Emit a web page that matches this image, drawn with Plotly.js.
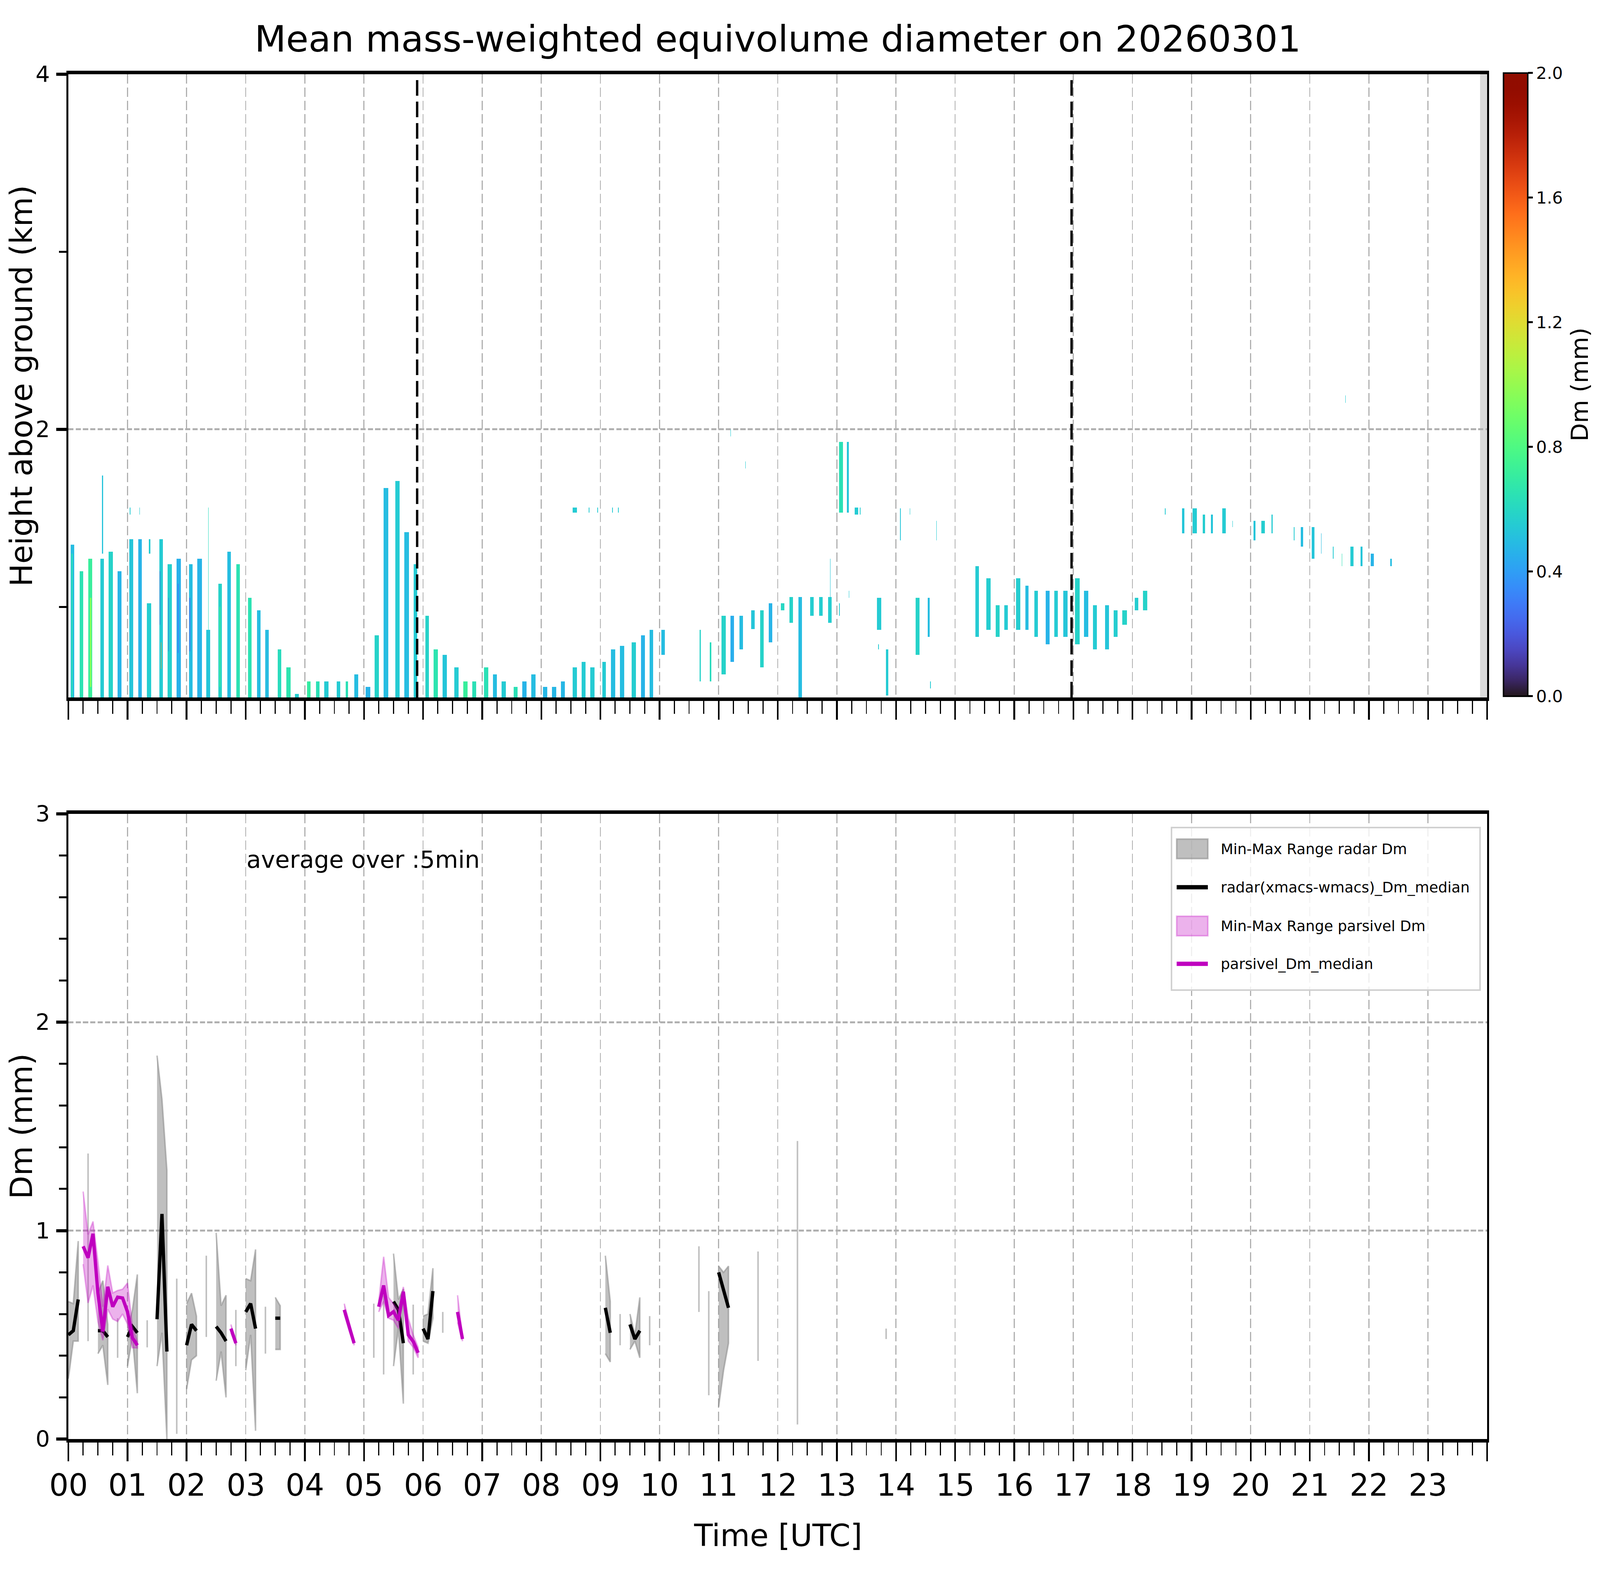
<!DOCTYPE html>
<html><head><meta charset="utf-8">
<script src="https://cdn.plot.ly/plotly-3.0.1.min.js"></script>
<style>html,body{margin:0;padding:0;background:#fff;overflow:hidden;}</style>
</head><body><div id="chart"></div>
<script>
// ---------------- DATA ----------------
// Top panel: radar Dm columns (time in hours UTC, heights in km, Dm in mm)
const colStart = [
  0.04,0.19,0.34,0.36,0.54,0.57,0.68,0.83,0.05,
  1.03,1.04,1.18,1.20,1.33,1.36,1.54,1.68,1.83,1.545,1.565,1.69,1.85,
  2.04,2.18,2.33,2.365,2.54,2.69,2.84,2.05,2.56,
  3.04,3.19,3.33,3.54,3.69,3.83,
  4.04,4.19,4.33,4.54,4.69,4.84,
  5.03,5.18,5.33,5.53,5.68,5.84,
  6.04,6.18,6.33,6.53,6.68,6.83,
  7.03,7.18,7.33,7.53,7.68,7.83,
  8.03,8.18,8.33,8.53,8.68,8.83,8.53,8.80,8.95,
  9.03,9.18,9.33,9.53,9.69,9.83,9.20,9.30,
  10.03,10.68,10.85,11.05,11.20,11.35,11.55,11.70,11.85,12.05,12.20,12.35,12.55,12.70,12.85,12.885,11.20,11.45,
  13.04,13.17,13.30,13.39,13.04,13.20,13.68,13.70,13.83,
  14.07,14.23,14.335,14.54,14.58,14.68,
  15.34,15.53,15.685,15.83,16.03,16.19,16.34,16.53,16.68,16.83,
  17.03,17.18,17.33,17.535,17.68,17.83,18.04,18.18,
  18.55,18.84,19.02,19.19,19.33,19.52,19.69,20.05,20.18,20.35,20.73,20.85,21.03,21.19,21.39,21.54,21.69,21.86,22.03,22.36,21.60
];
const colEnd = [
  0.10,0.25,0.40,0.39,0.60,0.585,0.75,0.90,0.07,
  1.10,1.05,1.24,1.21,1.40,1.385,1.60,1.75,1.90,1.555,1.575,1.70,1.86,
  2.10,2.26,2.40,2.375,2.60,2.75,2.90,2.06,2.57,
  3.10,3.25,3.39,3.60,3.76,3.90,
  4.10,4.25,4.40,4.60,4.73,4.90,
  5.11,5.25,5.41,5.60,5.76,5.90,
  6.10,6.25,6.40,6.60,6.75,6.90,
  7.10,7.25,7.40,7.60,7.75,7.90,
  8.10,8.25,8.40,8.60,8.75,8.90,8.60,8.815,8.962,
  9.09,9.25,9.40,9.60,9.75,9.89,9.21,9.31,
  10.09,10.70,10.875,11.12,11.26,11.41,11.61,11.76,11.91,12.11,12.26,12.41,12.61,12.76,12.91,12.895,11.21,11.46,
  13.10,13.20,13.36,13.40,13.05,13.21,13.75,13.71,13.87,
  14.08,14.24,14.40,14.57,14.59,14.69,
  15.40,15.60,15.75,15.89,16.10,16.24,16.40,16.60,16.74,16.90,
  17.11,17.25,17.40,17.60,17.75,17.91,18.10,18.25,
  18.56,18.88,19.09,19.23,19.36,19.58,19.70,20.08,20.24,20.37,20.74,20.89,21.08,21.20,21.40,21.55,21.74,21.89,22.08,22.39,21.61
];
const colBase = [
  0.49,0.49,0.49,0.55,0.49,1.30,0.49,0.49,0.49,
  0.49,1.52,0.49,1.52,0.49,1.30,0.49,0.49,0.49,0.90,0.65,0.75,0.74,
  0.49,0.49,0.49,0.87,0.49,0.49,0.49,0.75,0.55,
  0.49,0.49,0.49,0.49,0.49,0.49,
  0.49,0.49,0.49,0.49,0.49,0.49,
  0.49,0.49,0.49,0.49,0.49,0.49,
  0.49,0.49,0.49,0.49,0.49,0.49,
  0.49,0.49,0.49,0.49,0.49,0.49,
  0.49,0.49,0.49,0.49,0.49,0.49,1.53,1.53,1.53,
  0.49,0.49,0.49,0.49,0.49,0.49,1.53,1.53,
  0.73,0.58,0.58,0.62,0.69,0.76,0.875,0.66,0.80,0.98,0.91,0.49,0.95,0.95,0.91,1.05,1.96,1.78,
  1.53,1.53,1.52,1.52,0.95,1.05,0.87,0.76,0.50,
  1.375,1.52,0.73,0.83,0.54,1.375,
  0.83,0.87,0.83,0.87,0.87,0.87,0.83,0.79,0.83,0.83,
  0.79,0.83,0.76,0.76,0.83,0.90,0.98,0.98,
  1.52,1.415,1.415,1.415,1.415,1.415,1.45,1.375,1.415,1.415,1.375,1.34,1.27,1.30,1.27,1.23,1.23,1.23,1.23,1.23,2.15
];
const colTop = [
  1.35,1.20,1.27,1.05,1.27,1.74,1.31,1.20,1.30,
  1.38,1.56,1.38,1.56,1.02,1.38,1.38,1.24,1.27,1.20,0.80,1.05,1.13,
  1.24,1.27,0.87,1.56,1.13,1.31,1.24,1.05,1.00,
  1.05,0.98,0.87,0.76,0.66,0.51,
  0.58,0.58,0.58,0.58,0.58,0.62,
  0.55,0.84,1.67,1.71,1.42,1.24,
  0.95,0.76,0.73,0.66,0.58,0.58,
  0.66,0.62,0.58,0.55,0.58,0.62,
  0.55,0.55,0.58,0.66,0.69,0.66,1.56,1.56,1.56,
  0.69,0.76,0.78,0.80,0.84,0.87,1.56,1.56,
  0.87,0.87,0.80,0.95,0.95,0.95,0.98,0.98,1.02,1.02,1.055,1.055,1.055,1.055,1.055,1.27,2.00,1.82,
  1.93,1.93,1.56,1.56,1.02,1.09,1.05,0.79,0.76,
  1.555,1.555,1.05,1.05,0.58,1.485,
  1.23,1.16,1.01,1.01,1.16,1.12,1.09,1.09,1.09,1.09,
  1.16,1.09,1.01,1.01,0.98,0.98,1.05,1.09,
  1.555,1.555,1.555,1.52,1.52,1.555,1.485,1.485,1.485,1.52,1.45,1.45,1.45,1.415,1.34,1.30,1.34,1.34,1.30,1.27,2.19
];
const colDm = [
  0.50,0.65,0.72,0.95,0.55,0.52,0.58,0.47,0.65,
  0.53,0.55,0.47,0.55,0.56,0.55,0.55,0.57,0.46,0.20,1.40,0.25,0.30,
  0.50,0.47,0.53,0.62,0.58,0.50,0.65,0.25,0.75,
  0.65,0.50,0.50,0.62,0.66,0.56,
  0.70,0.64,0.55,0.55,0.64,0.50,
  0.47,0.58,0.50,0.55,0.50,0.55,
  0.58,0.66,0.53,0.55,0.72,0.64,
  0.64,0.50,0.55,0.64,0.47,0.50,
  0.48,0.48,0.48,0.55,0.55,0.55,0.55,0.55,0.55,
  0.55,0.50,0.50,0.56,0.47,0.50,0.55,0.55,
  0.50,0.58,0.62,0.58,0.45,0.50,0.53,0.58,0.47,0.60,0.58,0.50,0.56,0.56,0.56,0.53,0.55,0.55,
  0.64,0.53,0.55,0.55,0.55,0.55,0.55,0.55,0.55,
  0.53,0.55,0.58,0.50,0.55,0.55,
  0.55,0.56,0.58,0.55,0.56,0.50,0.55,0.47,0.55,0.53,
  0.58,0.50,0.55,0.53,0.56,0.58,0.56,0.58,
  0.55,0.53,0.55,0.56,0.53,0.55,0.55,0.53,0.56,0.55,0.55,0.50,0.53,0.50,0.55,0.64,0.55,0.53,0.47,0.50,0.55
];
const noDataFrom = 23.88;          // hours: no radar data after this time
const markerTimes = [5.9, 16.97];  // hours: dashed event markers

// Bottom panel: 5-min averages (time in minutes after 00 UTC, Dm in mm)
const radarTime = [0,5,10,20,30,35,40,50,60,65,70,80,90,95,100,110,120,125,130,140,150,155,160,170,180,185,190,200,210,215,
  310,320,330,335,340,350,360,365,370,380,545,550,560,570,575,580,590,640,650,660,665,670,700,740,830];
const radarMedian = [0.50,0.52,0.67,null,0.52,0.52,0.49,null,0.49,0.54,0.51,null,0.575,1.08,0.42,null,0.45,0.55,0.52,null,0.54,0.51,0.47,null,0.61,0.65,0.53,null,0.58,0.58,
  null,null,0.66,0.62,0.46,null,0.53,0.48,0.71,null,0.63,0.51,null,0.55,0.48,0.52,null,null,null,0.80,0.71,0.63,null,null,null];
const radarMin = [0.29,0.47,0.47,0.47,0.41,0.45,0.26,0.39,0.35,0.49,0.22,0.44,0.35,0.51,0.00,0.025,0.24,0.38,0.40,0.49,0.28,0.42,0.20,0.35,0.33,0.50,0.04,0.41,0.43,0.43,
  0.39,0.31,0.35,0.53,0.17,0.31,0.47,0.46,0.58,0.51,0.41,0.37,0.45,0.43,0.47,0.39,0.45,0.61,0.21,0.155,0.33,0.46,0.375,0.07,0.48];
const radarMax = [0.66,0.65,0.95,1.37,0.70,0.76,0.55,0.58,0.52,0.62,0.79,0.57,1.84,1.63,1.29,0.77,0.65,0.70,0.59,0.88,0.99,0.64,0.69,0.62,0.77,0.76,0.91,0.635,0.68,0.64,
  0.65,0.69,0.89,0.67,0.72,0.645,0.59,0.60,0.82,0.61,0.88,0.66,0.60,0.60,0.50,0.68,0.59,0.925,0.71,0.83,0.80,0.83,0.90,1.43,0.53];

const parsTime = [15,20,25,30,35,40,45,50,55,60,65,70,165,170,280,285,290,315,320,325,330,335,340,345,350,355,395,400];
const parsMedian = [0.925,0.87,0.985,0.70,0.516,0.731,0.635,0.681,0.677,0.611,0.486,0.45,0.53,0.46,0.62,0.54,0.46,0.635,0.737,0.593,0.611,0.57,0.707,0.50,0.468,0.414,0.61,0.48];
const parsMin = [0.839,0.653,0.737,0.564,0.474,0.623,0.576,0.564,0.60,0.552,0.438,0.437,0.51,0.45,0.60,0.52,0.45,0.61,0.66,0.58,0.57,0.53,0.68,0.47,0.44,0.39,0.56,0.47];
const parsMax = [1.188,0.982,1.044,0.851,0.635,0.833,0.701,0.713,0.719,0.749,0.54,0.468,0.55,0.47,0.65,0.56,0.47,0.66,0.875,0.68,0.65,0.62,0.73,0.58,0.50,0.44,0.69,0.49];

const hourLabels = ['00','01','02','03','04','05','06','07','08','09','10','11','12','13','14','15','16','17','18','19','20','21','22','23'];
const heightTicks = [2,4];
const dmTicks = [0,1,2,3];
const cbTicks = [0.0,0.4,0.8,1.2,1.6,2.0];
const titleText = 'Mean mass-weighted equivolume diameter on 20260301';
const legendLabels = ['Min-Max Range radar Dm','radar(xmacs-wmacs)_Dm_median','Min-Max Range parsivel Dm','parsivel_Dm_median'];

// ---------------- SIZE (fill the window; design units are 7442 x 4031) ----------------
const REFW=7442, REFH=4031;
const W=window.innerWidth||REFW, H=window.innerHeight||REFH;
const SX=W/REFW, SY=H/REFH;
const SF=Math.min(SX,SY);              // font scale where horizontal room is tight
const SG=Math.sqrt(SX*SY);             // font scale where there is room
const SL=(SX+SY)/2;                    // mixed-direction line widths
const chartDiv=document.getElementById('chart');
chartDiv.style.width=W+'px'; chartDiv.style.height=H+'px';
const dash=(a,b)=>a.toFixed(1)+'px,'+b.toFixed(1)+'px';
const py=v=>1-v/REFH, px=v=>v/REFW;   // design pixel -> paper fraction

// ---------------- HELPERS ----------------
function turbo(t){
  const r=0.13572138+t*(4.61539260+t*(-42.66032258+t*(132.13108234+t*(-152.94239396+t*59.28637943))));
  const g=0.09140261+t*(2.19418839+t*(4.84296658+t*(-14.18503333+t*(4.27729857+t*2.82956604))));
  const b=0.10667330+t*(12.64194608+t*(-60.58204836+t*(110.36276771+t*(-89.90310912+t*27.34824973))));
  const c=v=>Math.round(255*Math.max(0,Math.min(1,v)));
  return 'rgb('+c(r)+','+c(g)+','+c(b)+')';
}
const turboScale=[]; for(let i=0;i<=40;i++){turboScale.push([i/40,turbo(i/40)]);}

function runsOf(times){
  const runs=[]; let cur=[0];
  for(let i=1;i<times.length;i++){
    if(times[i]-times[i-1]===5){cur.push(i);} else {runs.push(cur); cur=[i];}
  }
  runs.push(cur); return runs;
}
function bandXY(times,lo,hi){
  const x=[],y=[];
  runsOf(times).forEach(run=>{
    run.forEach(i=>{x.push(times[i]/60); y.push(hi[i]);});
    run.slice().reverse().forEach(i=>{x.push(times[i]/60); y.push(lo[i]);});
    x.push(null); y.push(null);
  });
  return {x,y};
}
function lineXY(times,v){
  const x=[],y=[];
  runsOf(times).forEach(run=>{
    run.forEach(i=>{x.push(times[i]/60); y.push(v[i]);});
    x.push(null); y.push(null);
  });
  return {x,y};
}

// ---------------- TRACES ----------------
const FONT='DejaVu Sans';
const barsX=colStart.map((s,i)=>(s+colEnd[i])/2);
const barsW=colStart.map((s,i)=>colEnd[i]-s);
const barsH=colBase.map((b,i)=>colTop[i]-b);

const topDomY=[0.5572,0.9529], botDomY=[0.0863,0.4833], domX=[0.04273,0.92946];

const traces=[];
traces.push({
  type:'bar', x:barsX, width:barsW, base:colBase, y:barsH, xaxis:'x', yaxis:'y',
  marker:{color:colDm, colorscale:turboScale, cmin:0, cmax:2, line:{width:0},
    colorbar:{thickness:112*SX, thicknessmode:'pixels', len:0.3957, lenmode:'fraction',
      x:px(6993), xanchor:'left', xref:'paper', y:0.7558, yanchor:'middle', yref:'paper', xpad:0, ypad:0,
      outlinewidth:5*SL, outlinecolor:'black', ticks:'outside', ticklen:21*SX, tickwidth:5*SY, tickcolor:'black',
      tickmode:'array', tickvals:cbTicks, ticktext:cbTicks.map(v=>v.toFixed(1)),
      tickfont:{family:FONT,size:78*SF,color:'black'}}},
  showlegend:false, hoverinfo:'skip'
});
const rb=bandXY(radarTime,radarMin,radarMax);
traces.push({type:'scatter', mode:'lines', x:rb.x, y:rb.y, xaxis:'x2', yaxis:'y2', fill:'toself',
  fillcolor:'rgba(128,128,128,0.5)', line:{color:'rgba(128,128,128,0.5)', width:5*SL}, connectgaps:false, showlegend:false, hoverinfo:'skip'});
const rl=lineXY(radarTime,radarMedian);
traces.push({type:'scatter', mode:'lines', x:rl.x, y:rl.y, xaxis:'x2', yaxis:'y2',
  line:{color:'black', width:11*SL}, connectgaps:false, showlegend:false, hoverinfo:'skip'});
const pb=bandXY(parsTime,parsMin,parsMax);
traces.push({type:'scatter', mode:'lines', x:pb.x, y:pb.y, xaxis:'x2', yaxis:'y2', fill:'toself',
  fillcolor:'rgba(191,0,191,0.3)', line:{color:'rgba(191,0,191,0.3)', width:5*SL}, connectgaps:false, showlegend:false, hoverinfo:'skip'});
const pl=lineXY(parsTime,parsMedian);
traces.push({type:'scatter', mode:'lines', x:pl.x, y:pl.y, xaxis:'x2', yaxis:'y2',
  line:{color:'#bf00bf', width:11*SL}, connectgaps:false, showlegend:false, hoverinfo:'skip'});

// ---------------- AXES ----------------
const hourTicks=[]; for(let h=0;h<=24;h++) hourTicks.push(h);
const minorHour=[]; for(let q=0;q<=96;q++){ if(q%4) minorHour.push(q/4); }
const xCommon={range:[0,24], domain:domX, showline:true, linecolor:'black', linewidth:9*SY, mirror:true,
  ticks:'outside', ticklen:48*SY, tickwidth:8*SX, tickcolor:'black', tickmode:'array', tickvals:hourTicks, showticklabels:false,
  showgrid:true, gridcolor:'#b0b0b0', gridwidth:5*SX, griddash:dash(24*SY,10*SY), zeroline:false,
  minor:{tickmode:'array', tickvals:minorHour, ticks:'outside', ticklen:33*SY, tickwidth:5*SX, tickcolor:'black', showgrid:false}};
const yCommon={showline:true, linecolor:'black', linewidth:9*SX, mirror:true, ticks:'outside', ticklen:48*SX, tickwidth:8*SY, tickcolor:'black',
  showticklabels:false, showgrid:true, gridcolor:'#b0b0b0', gridwidth:5*SY, griddash:dash(24*SX,10*SX), zeroline:false};

const layout={
  width:W, height:H, margin:{l:0,r:0,t:0,b:0,pad:0}, paper_bgcolor:'white', plot_bgcolor:'white',
  font:{family:FONT,color:'black'}, showlegend:false, barmode:'overlay', bargap:0,
  title:{text:titleText, font:{family:FONT,size:126*SG,color:'black'}, x:0.4861, xanchor:'center', xref:'paper', y:py(99), yanchor:'middle', yref:'paper'},
  xaxis:Object.assign({},xCommon,{anchor:'y'}),
  xaxis2:Object.assign({},xCommon,{anchor:'y2'}),
  yaxis:Object.assign({},yCommon,{domain:topDomY, range:[0.49,4], anchor:'x', tickmode:'array', tickvals:heightTicks,
    minor:{tickmode:'array', tickvals:[1,3], ticks:'outside', ticklen:35*SX, tickwidth:5*SY, tickcolor:'black', showgrid:false}}),
  yaxis2:Object.assign({},yCommon,{domain:botDomY, range:[0,3], anchor:'x2', tickmode:'array', tickvals:dmTicks,
    minor:{tickmode:'linear', tick0:0, dtick:0.2, ticks:'outside', ticklen:35*SX, tickwidth:5*SY, tickcolor:'black', showgrid:false}}),
  shapes:[], annotations:[]
};

// tick labels placed on the axes' own scales
hourLabels.forEach((lab,h)=>layout.annotations.push({xref:'x2', yref:'paper', x:h, y:py(3801), xanchor:'center', yanchor:'middle',
  showarrow:false, text:lab, font:{family:FONT,size:105*SG,color:'black'}}));
heightTicks.forEach(v=>layout.annotations.push({xref:'paper', yref:'y', x:px(237), y:v, xanchor:'right', yanchor:'middle',
  showarrow:false, text:String(v), font:{family:FONT,size:105*SF,color:'black'}}));
dmTicks.forEach(v=>layout.annotations.push({xref:'paper', yref:'y2', x:px(237), y:v, xanchor:'right', yanchor:'middle',
  showarrow:false, text:String(v), font:{family:FONT,size:105*SF,color:'black'}}));

// axis titles
layout.annotations.push({xref:'paper', yref:'paper', x:0.4861, y:py(3930), xanchor:'center', yanchor:'middle', showarrow:false,
  text:'Time [UTC]', font:{family:FONT,size:105*SG,color:'black'}});
[['Height above ground (km)',topDomY],['Dm (mm)',botDomY]].forEach(([txt,dom])=>{
  layout.annotations.push({xref:'paper', yref:'paper', x:px(100), y:(dom[0]+dom[1])/2, xanchor:'center', yanchor:'middle',
    textangle:-90, showarrow:false, text:txt, font:{family:FONT,size:105*SG,color:'black'}});
});
// colorbar title
layout.annotations.push({xref:'paper', yref:'paper', x:px(7348), y:0.7558, xanchor:'center', yanchor:'middle',
  textangle:-90, showarrow:false, text:'Dm (mm)', font:{family:FONT,size:82*SG,color:'black'}});

// no-data band and event markers in top panel
layout.shapes.push({type:'rect', xref:'x', yref:'y domain', x0:noDataFrom, x1:24, y0:0, y1:1, fillcolor:'#d9d9d9', line:{width:0}, layer:'below'});
markerTimes.forEach(t=>layout.shapes.push({type:'line', xref:'x', yref:'y domain', x0:t, x1:t, y0:0, y1:1,
  line:{color:'black', width:11*SX, dash:dash(40*SY,15*SY)}}));

// legend (upper right of bottom panel)
layout.shapes.push({type:'rect', xref:'paper', yref:'paper', x0:px(5449), x1:px(6884), y0:py(2534), y1:py(2118),
  fillcolor:'rgba(255,255,255,0.8)', line:{color:'#d0d0d0', width:5*SL}});
const rowY=[2172.5,2270.7,2370,2466.8].map(py);
const symX0=px(5473), symX1=px(5618), halfH=25/REFH;
const legendStyles=[
  {kind:'patch', fill:'rgba(128,128,128,0.5)', line:'rgba(128,128,128,0.5)'},
  {kind:'line', color:'black'},
  {kind:'patch', fill:'rgba(191,0,191,0.3)', line:'rgba(191,0,191,0.3)'},
  {kind:'line', color:'#bf00bf'}
];
legendStyles.forEach((s,i)=>{
  if(s.kind==='patch'){
    layout.shapes.push({type:'rect', xref:'paper', yref:'paper', x0:symX0, x1:symX1, y0:rowY[i]-halfH, y1:rowY[i]+halfH, fillcolor:s.fill, line:{color:s.line, width:5*SL}});
  } else {
    layout.shapes.push({type:'line', xref:'paper', yref:'paper', x0:symX0, x1:symX1, y0:rowY[i], y1:rowY[i], line:{color:s.color, width:11*SY}});
  }
  layout.annotations.push({xref:'paper', yref:'paper', x:px(5674), y:rowY[i], xanchor:'left', yanchor:'middle', showarrow:false,
    text:legendLabels[i], font:{family:FONT,size:68*SF,color:'black'}});
});
layout.annotations.push({xref:'x2', yref:'y2', x:3.0, y:2.78, xanchor:'left', yanchor:'middle', showarrow:false,
  text:'average over :5min', font:{family:FONT,size:82*SG,color:'black'}});

Plotly.newPlot('chart', traces, layout, {displayModeBar:false, staticPlot:true});
</script></body></html>
